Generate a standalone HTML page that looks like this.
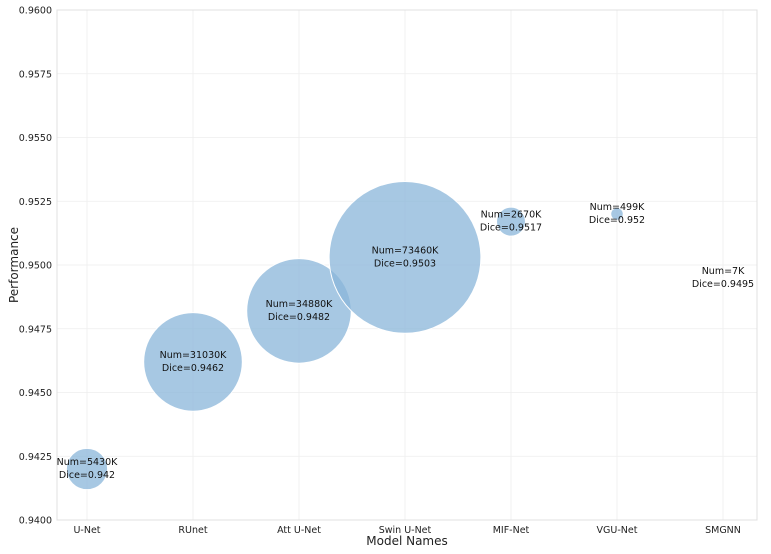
<!DOCTYPE html>
<html><head><meta charset="utf-8"><style>
body{margin:0;background:#fff;font-family:"Liberation Sans","DejaVu Sans",sans-serif}
svg text{font-family:"DejaVu Sans","Liberation Sans",sans-serif}
</style></head><body>
<svg id="chart" width="771" height="549" xmlns="http://www.w3.org/2000/svg"></svg>
<script>
const categories=["U-Net","RUnet","Att U-Net","Swin U-Net","MIF-Net","VGU-Net","SMGNN"];
const dice=[0.942,0.9462,0.9482,0.9503,0.9517,0.952,0.9495];
const params=[5430,31030,34880,73460,2670,499,7];
const yTicks=[0.94,0.9425,0.945,0.9475,0.95,0.9525,0.955,0.9575,0.96];
const NS="http://www.w3.org/2000/svg";
const svg=document.getElementById('chart');
const L=57,R=757,T=10,B=520,y0=0.94,y1=0.96;
const X=i=>87+i*106;
const Y=v=>B-(v-y0)/(y1-y0)*(B-T);
const rad=n=>0.28*Math.sqrt(n);
function mk(tag,a,txt){const e=document.createElementNS(NS,tag);for(const k in a)e.setAttribute(k,a[k]);if(txt!==undefined)e.textContent=txt;svg.appendChild(e);return e;}
yTicks.forEach(t=>{
 const g=mk('line',{x1:L,x2:R,y1:Y(t),y2:Y(t),stroke:'#eeeeee','stroke-width':0.8});
 
 
 const l=mk('text',{x:52,y:Y(t)+3.5,'font-size':9.5,'text-anchor':'end',fill:'#222'},t.toFixed(4));
 
 
});
categories.forEach((c,i)=>{
 const g=mk('line',{x1:X(i),x2:X(i),y1:T,y2:B,stroke:'#eeeeee','stroke-width':0.8});
 
 
 const l=mk('text',{x:X(i),y:533,'font-size':9.5,'text-anchor':'middle',fill:'#222'},c);
 
 
});
const fr=mk('rect',{x:L,y:T,width:R-L,height:B-T,fill:'none',stroke:'#e0e0e0'});


categories.forEach((c,i)=>{
 const b=mk('circle',{cx:X(i),cy:Y(dice[i]),r:rad(params[i]),fill:'#8ab6da','fill-opacity':0.75,stroke:'#fff','stroke-width':1});
 
 
});
categories.forEach((c,i)=>{
 const t1=mk('text',{x:X(i),y:Y(dice[i])-4,'font-size':9.5,'text-anchor':'middle',fill:'#111'},'Num='+params[i]+'K');
 
 
 const t2=mk('text',{x:X(i),y:Y(dice[i])+9,'font-size':9.5,'text-anchor':'middle',fill:'#111'},'Dice='+dice[i]);
 
 
});
const xt=mk('text',{x:(L+R)/2,y:545,'font-size':12,'text-anchor':'middle',fill:'#222'},'Model Names');


const yt=mk('text',{x:18,y:(T+B)/2,'font-size':12,'text-anchor':'middle',fill:'#222',transform:'rotate(-90 18 '+((T+B)/2)+')'},'Performance');


</script>
</body></html>
